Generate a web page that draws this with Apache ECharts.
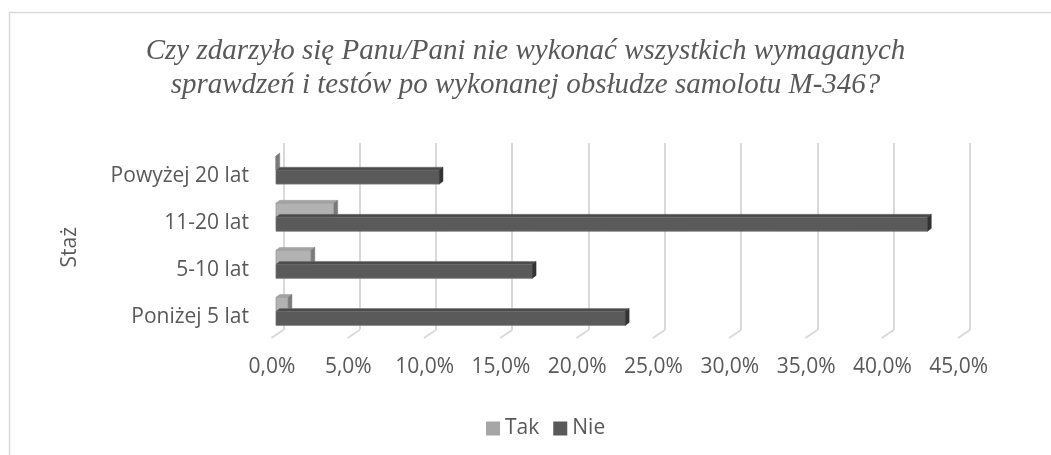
<!DOCTYPE html>
<html>
<head>
<meta charset="utf-8">
<script src="https://cdn.jsdelivr.net/npm/echarts@6/dist/echarts.min.js"></script>
<style>
html,body{margin:0;padding:0;background:#fff;}
#chart{width:1051px;height:455px;}
</style>
</head>
<body>
<div id="chart"></div>
<script>
const categories = ['Poniżej 5 lat', '5-10 lat', '11-20 lat', 'Powyżej 20 lat'];
const takValues = [0.8, 2.3, 3.8, 0.0];
const nieValues = [22.9, 16.8, 42.7, 10.7];
const tickValues = [0, 5, 10, 15, 20, 25, 30, 35, 40, 45];
const seriesNames = ['Tak', 'Nie'];
const titleLines = ['Czy zdarzyło się Panu/Pani nie wykonać wszystkich wymaganych', 'sprawdzeń i testów po wykonanej obsłudze samolotu M-346?'];
const axisTitle = 'Staż';

const chart = echarts.init(document.getElementById('chart'));

function barRenderer(offset, colors) {
  return function (params, api) {
    const v = api.value(0), c = api.value(1);
    const p0 = api.coord([0, c]);
    const p1 = api.coord([v, c]);
    const h = 14;
    const top = p0[1] + offset - h / 2;
    const x0 = p0[0], x1 = p1[0];
    const dx = 3.7, dy = -2.8;
    return {
      type: 'group',
      children: [
        { type: 'rect', shape: { x: x0, y: top, width: x1 - x0, height: h },
          style: { fill: colors.front, stroke: colors.edge, lineWidth: 0.8 } },
        { type: 'polygon', shape: { points: [[x0, top], [x1, top], [x1 + dx, top + dy], [x0 + dx, top + dy]] },
          style: { fill: colors.top, stroke: colors.edge, lineWidth: 0.5 } },
        { type: 'polygon', shape: { points: [[x1, top], [x1, top + h], [x1 + dx, top + h + dy], [x1 + dx, top + dy]] },
          style: { fill: colors.side, stroke: colors.side, lineWidth: 0.5 } }
      ]
    };
  };
}

const takColors = { front: '#b2b2b2', top: '#a3a3a3', side: '#7a7a7a', edge: '#9a9a9a' };
const nieColors = { front: '#5a5a5a', top: '#4a4a4a', side: '#333333', edge: '#6e6e6e' };

const option = {
  backgroundColor: '#ffffff',
  animation: false,
  title: {
    text: titleLines.join('\n'),
    left: 'center',
    top: 29,
    textStyle: {
      fontFamily: 'Liberation Serif',
      fontStyle: 'italic',
      fontWeight: 'normal',
      fontSize: 29,
      lineHeight: 34,
      color: '#595959'
    }
  },
  legend: {
    data: seriesNames,
    left: 481,
    top: 413,
    icon: 'rect',
    itemWidth: 14,
    itemHeight: 14,
    itemGap: 14,
    textStyle: { fontFamily: 'Open Sans', fontSize: 21, color: '#595959' }
  },
  graphic: [
    { type: 'rect', z: -10, shape: { x: 9.5, y: 12.5, width: 1100, height: 600 },
      style: { fill: 'none', stroke: '#d9d9d9', lineWidth: 1.5 } },
    { type: 'text', left: 60, top: 227, rotation: Math.PI / 2,
      style: { text: axisTitle, fontFamily: 'Open Sans', fontSize: 21, fill: '#595959' } }
  ],
  grid: [
    { left: 276, top: 146.5, width: 686.7, height: 188.4 },
    { left: 283.3, top: 143, width: 686.7, height: 187 }
  ],
  xAxis: [
    {
      gridIndex: 0, type: 'value', min: 0, max: 45, interval: 5,
      axisLine: { show: false }, axisTick: { show: false }, splitLine: { show: false },
      axisLabel: {
        margin: 22,
        fontFamily: 'Open Sans', fontSize: 21, color: '#595959',
        padding: [0, 8, 0, 0],
        formatter: v => v.toFixed(1).replace('.', ',') + '%'
      }
    },
    {
      gridIndex: 1, type: 'value', min: 0, max: 45, interval: 5,
      axisLine: { show: false }, axisTick: { show: false }, axisLabel: { show: false },
      splitLine: { show: true, lineStyle: { color: '#d9d9d9', width: 2 } }
    }
  ],
  yAxis: [
    {
      gridIndex: 0, type: 'category', data: categories,
      axisLine: { show: false }, axisTick: { show: false }, splitLine: { show: false },
      axisLabel: {
        margin: 27, fontFamily: 'Open Sans', fontSize: 21, color: '#595959',
        formatter: v => '{a|' + v + '}',
        rich: { a: { fontFamily: 'Open Sans', fontSize: 21, color: '#595959', padding: [12, 0, 0, 0] } }
      }
    },
    { gridIndex: 1, type: 'value', min: 0, max: 1, show: false, splitLine: { show: false } }
  ],
  series: [
    {
      name: 'floorTicks', type: 'custom', xAxisIndex: 1, yAxisIndex: 1, silent: true, z: 1,
      data: tickValues.map(v => [v, 0]),
      renderItem: function (params, api) {
        const p = api.coord([api.value(0), 0]);
        return { type: 'line', shape: { x1: p[0], y1: p[1], x2: p[0] - 12, y2: p[1] + 8 },
          style: { stroke: '#d9d9d9', lineWidth: 2 } };
      }
    },
    {
      name: 'Tak', type: 'custom', xAxisIndex: 0, yAxisIndex: 0, z: 3,
      itemStyle: { color: '#a6a6a6' },
      data: takValues.map((v, i) => [v, i]),
      encode: { x: 0, y: 1 },
      renderItem: barRenderer(-7, takColors)
    },
    {
      name: 'Nie', type: 'custom', xAxisIndex: 0, yAxisIndex: 0, z: 4,
      itemStyle: { color: '#595959' },
      data: nieValues.map((v, i) => [v, i]),
      encode: { x: 0, y: 1 },
      renderItem: barRenderer(7, nieColors)
    }
  ]
};
chart.setOption(option);
</script>
</body>
</html>
